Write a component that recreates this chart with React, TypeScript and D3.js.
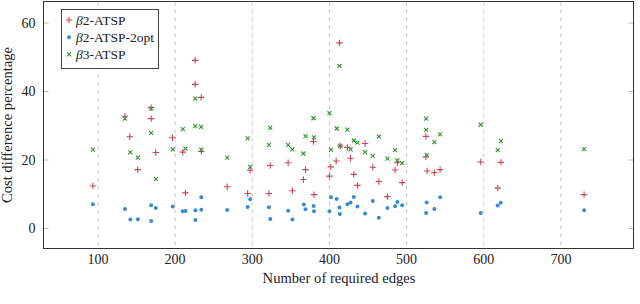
import * as d3 from 'd3';

// beta2-ATSP (red plus)
const atspX = [93.5, 135, 141.3, 151.5, 169, 169, 175, 196.6, 210, 213.4, 226, 226, 233.8, 234, 267.5, 294, 297.3, 321.6, 323.3, 346.5, 352, 366.3, 369, 379.3, 380, 400, 401.8, 408.7, 413, 414, 423.3, 427.3, 431.6, 436.3, 446.2, 456.2, 464, 475.1, 485.1, 488.1, 494.2, 525, 525, 526.6, 536, 543.4, 596.1, 618.1, 622.2, 730];
const atspY = [12.4, 32.8, 26.8, 17.2, 35.3, 32.1, 22.2, 26.5, 22.3, 10.4, 49.1, 42.1, 38.3, 22.5, 12.2, 10.2, 17.0, 10.2, 18.4, 19.2, 11.0, 14.3, 17.2, 25.4, 9.9, 15.3, 18.0, 19.7, 54.2, 24.1, 23.7, 20.5, 15.8, 12.6, 24.8, 17.9, 13.7, 9.3, 17.1, 19.2, 13.4, 26.9, 20.9, 16.8, 16.3, 17.2, 19.4, 11.8, 19.3, 9.9];

// beta2-ATSP-2opt (blue dots)
const optX = [93.5, 135, 142, 151.8, 169, 169, 175, 197, 210, 213.4, 226.4, 226.4, 234, 234, 267.5, 294, 297.3, 321.6, 323.3, 346.5, 352, 366.8, 369, 379.5, 380, 400, 402, 409.3, 413, 413.5, 423.3, 427.3, 431.6, 436.3, 446.2, 456.2, 464, 475.2, 485.1, 488.1, 494.2, 525.3, 526, 536, 543.4, 596, 618, 622, 730];
const optY = [7.1, 5.7, 2.6, 2.7, 6.8, 2.2, 6.0, 6.4, 5.0, 5.1, 5.3, 2.5, 5.5, 9.1, 5.4, 6.3, 8.5, 6.2, 2.8, 5.2, 2.6, 7.0, 5.6, 6.6, 5.0, 5.0, 9.1, 8.6, 6.1, 4.2, 7.1, 7.6, 9.2, 6.4, 4.4, 8.0, 3.1, 6.0, 6.5, 7.7, 6.8, 4.5, 7.6, 5.7, 9.1, 4.5, 6.7, 7.5, 5.3];

// beta3-ATSP (green cross)
const b3X = [93.5, 135, 141.9, 151.8, 169, 169, 175, 197, 210, 213.4, 226, 226, 233.8, 233.9, 267.5, 294, 297.3, 321.6, 323.3, 346.5, 352, 366.3, 369, 379.3, 380, 400, 402, 409.6, 413, 414, 423.3, 427.4, 431.6, 436.3, 446.2, 456.2, 464, 475.2, 485.1, 488.1, 494.2, 525.3, 525.3, 526.2, 536, 543.4, 596, 618.1, 622.2, 730];
const b3Y = [23.0, 32.1, 22.2, 20.7, 35.0, 27.9, 14.5, 23.1, 29.0, 23.3, 37.9, 29.9, 29.7, 23.0, 20.7, 26.3, 18.0, 24.4, 29.4, 24.4, 23.1, 21.9, 27.0, 32.2, 26.6, 33.7, 23.0, 29.2, 47.5, 24.1, 28.9, 23.1, 25.7, 25.1, 22.3, 21.2, 26.8, 20.4, 22.9, 19.9, 19.1, 32.1, 28.8, 21.4, 25.2, 27.5, 30.3, 22.9, 25.5, 23.2];

const xTicks = [100, 200, 300, 400, 500, 600, 700];
const yTicks = [0, 20, 40, 60];

const RED = '#c9465a';
const BLUE = '#3b8bd0';
const GREEN = '#2f952f';

const W = 640;
const H = 304;
const left = 43.5;
const right = 633.5;
const top = 1.5;
const bottom = 248.5;

const serif = { fontFamily: "'Liberation Serif', 'Times New Roman', Times, serif" };

export default function App() {
  const x = d3.scaleLinear().domain([29.5, 794]).range([left, right]);
  const y = d3.scaleLinear().domain([-5.85, 66.3]).range([bottom, top]);

  const plus = (cx: number, cy: number, i: number) => (
    <path key={'r' + i} d={`M${cx - 3.2},${cy}H${cx + 3.2}M${cx},${cy - 3.2}V${cy + 3.2}`} stroke={RED} strokeWidth={1.1} fill="none" />
  );
  const cross = (cx: number, cy: number, i: number) => (
    <path key={'g' + i} d={`M${cx - 2},${cy - 2}L${cx + 2},${cy + 2}M${cx - 2},${cy + 2}L${cx + 2},${cy - 2}`} stroke={GREEN} strokeWidth={1.1} fill="none" />
  );
  const dot = (cx: number, cy: number, i: number) => (
    <circle key={'b' + i} cx={cx} cy={cy} r={2} fill={BLUE} />
  );

  const legendItems = [
    { label: '2-ATSP', mark: (cx: number, cy: number) => plus(cx, cy, -1) },
    { label: '2-ATSP-2opt', mark: (cx: number, cy: number) => dot(cx, cy, -1) },
    { label: '3-ATSP', mark: (cx: number, cy: number) => cross(cx, cy, -1) },
  ];

  return (
    <svg width={W} height={H} style={{ position: 'absolute', left: 0, top: 0 }}>
      <rect width={W} height={H} fill="#fff" />
      {/* vertical dashed grid */}
      {xTicks.map((t) => (
        <line key={'gx' + t} x1={x(t)} x2={x(t)} y1={top} y2={bottom} stroke="#cbcbcb" strokeWidth={1} strokeDasharray="4 4" />
      ))}
      {/* y ticks inside, both sides */}
      {yTicks.map((t) => (
        <g key={'ty' + t}>
          <line x1={left} x2={left + 5} y1={y(t)} y2={y(t)} stroke="#bbb" />
          <line x1={right - 5} x2={right} y1={y(t)} y2={y(t)} stroke="#bbb" />
          <text x={left - 8} y={y(t)} dy="0.35em" textAnchor="end" fontSize={14} fill="#222" style={serif}>{t}</text>
        </g>
      ))}
      {xTicks.map((t) => (
        <text key={'tx' + t} x={x(t)} y={bottom + 15} textAnchor="middle" fontSize={14} fill="#222" style={serif}>{t}</text>
      ))}
      {/* marks */}
      {atspX.map((v, i) => plus(x(v), y(atspY[i]), i))}
      {optX.map((v, i) => dot(x(v), y(optY[i]), i))}
      {b3X.map((v, i) => cross(x(v), y(b3Y[i]), i))}
      {/* frame */}
      <rect x={left} y={top} width={right - left} height={bottom - top} fill="none" stroke="#333" strokeWidth={1} />
      {/* legend */}
      <rect x={61.5} y={9.5} width={97} height={59} fill="#fff" stroke="#444" strokeWidth={1} />
      {legendItems.map((d, i) => (
        <g key={'lg' + i}>
          {d.mark(69, 20 + i * 17.2)}
          <text x={76} y={20 + i * 17.2} dy="0.35em" fontSize={13.5} fill="#222" style={serif}>
            <tspan fontStyle="italic">β</tspan>{d.label}
          </text>
        </g>
      ))}
      <text x={(left + right) / 2 + 0.5} y={282.5} textAnchor="middle" fontSize={14.6} fill="#222" style={serif}>Number of required edges</text>
      <text transform={`translate(12,${(top + bottom) / 2}) rotate(-90)`} textAnchor="middle" fontSize={14.6} fill="#222" style={serif}>Cost difference percentage</text>
    </svg>
  );
}
